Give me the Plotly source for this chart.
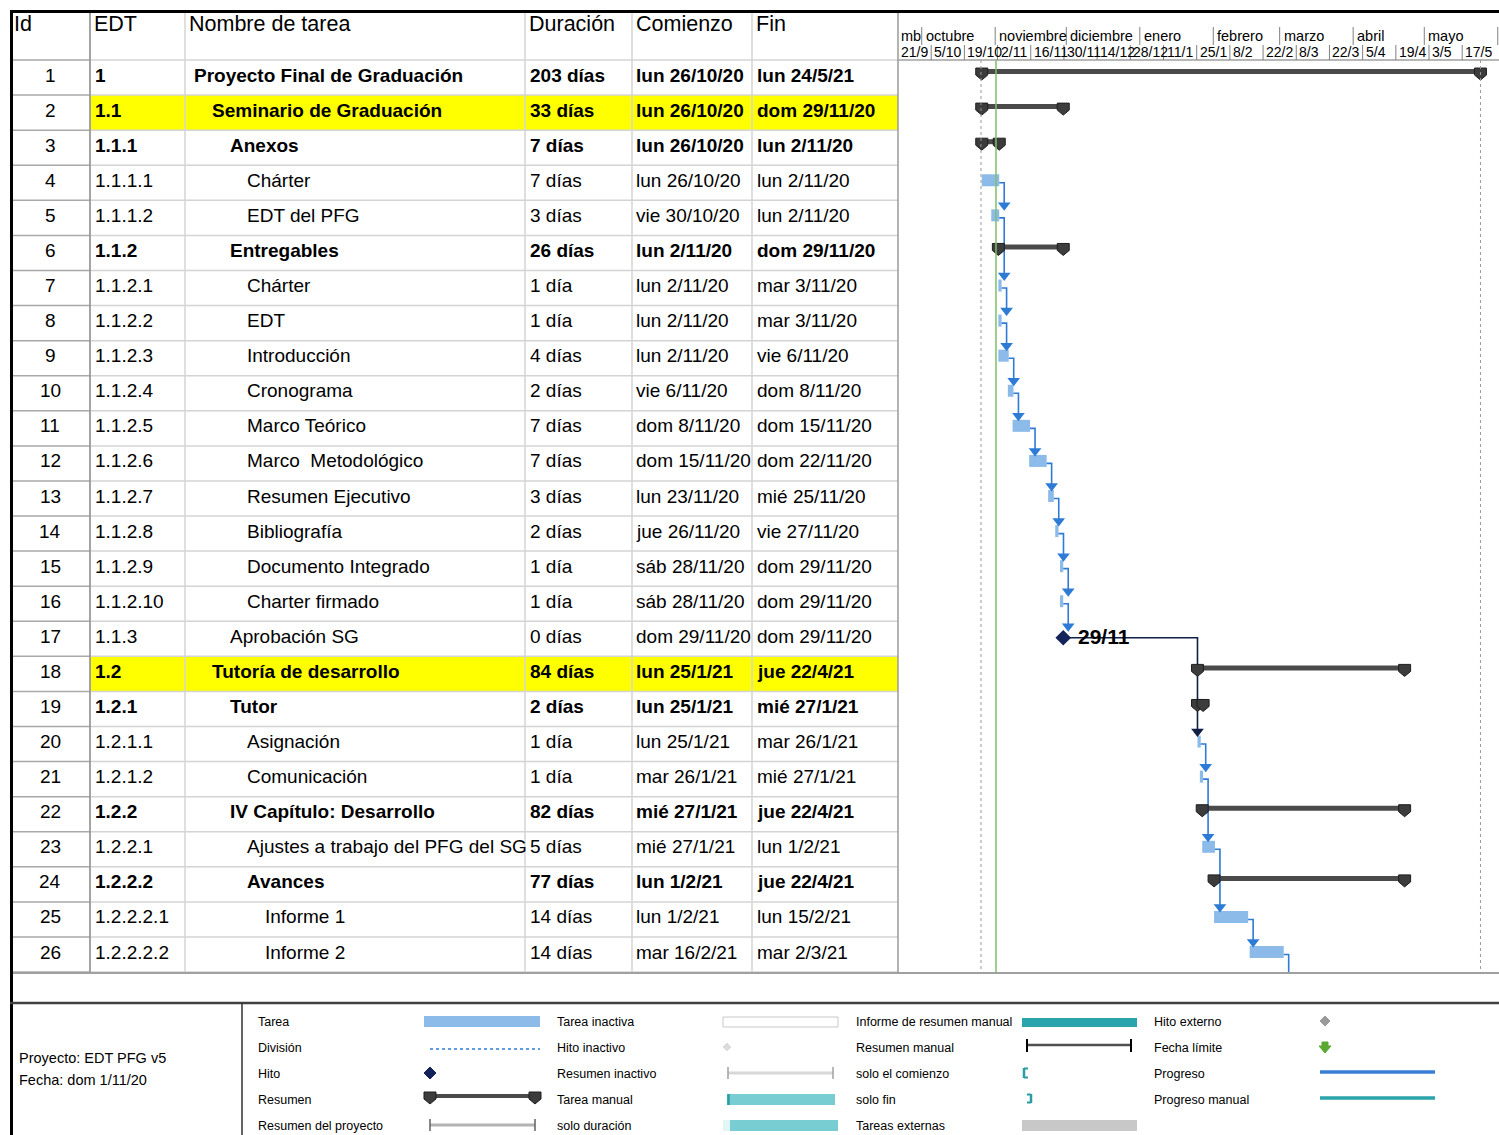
import plotly.graph_objects as go
from datetime import datetime, timedelta

W, H = 1499, 1135
FONT = "Liberation Sans, Arial, sans-serif"

# ---------------- task table ----------------
task_ids = list(range(1, 27))
edt_codes = ["1", "1.1", "1.1.1", "1.1.1.1", "1.1.1.2", "1.1.2", "1.1.2.1", "1.1.2.2",
             "1.1.2.3", "1.1.2.4", "1.1.2.5", "1.1.2.6", "1.1.2.7", "1.1.2.8", "1.1.2.9",
             "1.1.2.10", "1.1.3", "1.2", "1.2.1", "1.2.1.1", "1.2.1.2", "1.2.2", "1.2.2.1",
             "1.2.2.2", "1.2.2.2.1", "1.2.2.2.2"]
task_names = ["Proyecto Final de Graduación", "Seminario de Graduación", "Anexos", "Chárter",
              "EDT del PFG", "Entregables", "Chárter", "EDT", "Introducción", "Cronograma",
              "Marco Teórico", "Marco  Metodológico", "Resumen Ejecutivo", "Bibliografía",
              "Documento Integrado", "Charter firmado", "Aprobación SG", "Tutoría de desarrollo",
              "Tutor", "Asignación", "Comunicación", "IV Capítulo: Desarrollo",
              "Ajustes a trabajo del PFG del SG", "Avances", "Informe 1", "Informe 2"]
outline_levels = [0, 1, 2, 3, 3, 2, 3, 3, 3, 3, 3, 3, 3, 3, 3, 3, 2, 1, 2, 3, 3, 2, 3, 3, 4, 4]
durations = ["203 días", "33 días", "7 días", "7 días", "3 días", "26 días", "1 día", "1 día",
             "4 días", "2 días", "7 días", "7 días", "3 días", "2 días", "1 día", "1 día",
             "0 días", "84 días", "2 días", "1 día", "1 día", "82 días", "5 días", "77 días",
             "14 días", "14 días"]
start_labels = ["lun 26/10/20", "lun 26/10/20", "lun 26/10/20", "lun 26/10/20", "vie 30/10/20",
                "lun 2/11/20", "lun 2/11/20", "lun 2/11/20", "lun 2/11/20", "vie 6/11/20",
                "dom 8/11/20", "dom 15/11/20", "lun 23/11/20", "jue 26/11/20", "sáb 28/11/20",
                "sáb 28/11/20", "dom 29/11/20", "lun 25/1/21", "lun 25/1/21", "lun 25/1/21",
                "mar 26/1/21", "mié 27/1/21", "mié 27/1/21", "lun 1/2/21", "lun 1/2/21",
                "mar 16/2/21"]
finish_labels = ["lun 24/5/21", "dom 29/11/20", "lun 2/11/20", "lun 2/11/20", "lun 2/11/20",
                 "dom 29/11/20", "mar 3/11/20", "mar 3/11/20", "vie 6/11/20", "dom 8/11/20",
                 "dom 15/11/20", "dom 22/11/20", "mié 25/11/20", "vie 27/11/20", "dom 29/11/20",
                 "dom 29/11/20", "dom 29/11/20", "jue 22/4/21", "mié 27/1/21", "mar 26/1/21",
                 "mié 27/1/21", "jue 22/4/21", "lun 1/2/21", "jue 22/4/21", "lun 15/2/21",
                 "mar 2/3/21"]
task_types = ["summary", "summary", "summary", "task", "task", "summary", "task", "task", "task",
              "task", "task", "task", "task", "task", "task", "task", "milestone", "summary",
              "summary", "task", "task", "summary", "task", "summary", "task", "task"]
highlighted_rows = [2, 18]
# predecessor -> successor (None: successor below the visible rows)
links = [(4, 5), (5, 7), (7, 8), (8, 9), (9, 10), (10, 11), (11, 12), (12, 13), (13, 14),
         (14, 15), (15, 16), (16, 17), (17, 20), (20, 21), (21, 23), (23, 25), (25, 26),
         (26, None)]

# ---------------- timescale ----------------
month_starts = ["2020-10-01", "2020-11-01", "2020-12-01", "2021-01-01", "2021-02-01",
                "2021-03-01", "2021-04-01", "2021-05-01", "2021-06-01"]
month_labels = ["octubre", "noviembre", "diciembre", "enero", "febrero", "marzo", "abril",
                "mayo", ""]
week_tick_dates = ["2020-09-21", "2020-10-05", "2020-10-19", "2020-11-02", "2020-11-16",
                   "2020-11-30", "2020-12-14", "2020-12-28", "2021-01-11", "2021-01-25",
                   "2021-02-08", "2021-02-22", "2021-03-08", "2021-03-22", "2021-04-05",
                   "2021-04-19", "2021-05-03", "2021-05-17"]
week_tick_labels = ["21/9", "5/10", "19/10", "2/11", "16/11", "30/11", "14/12", "28/12",
                    "11/1", "25/1", "8/2", "22/2", "8/3", "22/3", "5/4", "19/4", "3/5", "17/5"]
project_name = "Proyecto: EDT PFG v5"
status_label = "Fecha: dom 1/11/20"

# ---------------- geometry helpers ----------------
ROW_PX = 35.08          # row pitch in pixels
TABLE_TOP = 60          # pixel y of the header bottom
GANTT_LEFT = 898        # pixel x of the chart pane
PX = 1.0 / ROW_PX       # one pixel in row units
TABLE_BOTTOM = TABLE_TOP + ROW_PX * len(task_ids)


def X(px):
    return px / W


def Y(py):
    return 1 - py / H


def parse_label(lbl):
    d, m, y = lbl.split()[1].split("/")
    return datetime(2000 + int(y), int(m), int(d))


def bar_span(tid):
    i = tid - 1
    s = parse_label(start_labels[i]) + timedelta(hours=8)
    f = parse_label(finish_labels[i]) + timedelta(hours=17)
    if task_types[i] == "milestone":
        s = f
    return s, f


fig = go.Figure()
shapes = []
annotations = []

# ---------------- task bars ----------------
for tid, kind in zip(task_ids, task_types):
    if kind != "task":
        continue
    s, f = bar_span(tid)
    fig.add_trace(go.Bar(
        orientation="h", y=[tid - 2.5 * PX], base=[s.isoformat()],
        x=[(f - s).total_seconds() * 1000], width=12 * PX,
        marker=dict(color="#8cbbe9", line=dict(width=0)),
        showlegend=False, hoverinfo="skip"))

# ---------------- summary bars ----------------
CAP_PATH = "M -6,6 L 6,6 L 6,-1 L 0,-6 L -6,-1 Z"
sx, sy = [], []
for tid, kind in zip(task_ids, task_types):
    if kind != "summary":
        continue
    s, f = bar_span(tid)
    sx += [s, f, None]
    sy += [tid - 6 * PX, tid - 6 * PX, None]
    for d in (s, f):
        shapes.append(dict(type="path", xref="x", yref="y", xsizemode="pixel",
                           ysizemode="pixel", xanchor=d.isoformat(),
                           yanchor=tid - 3.5 * PX, path=CAP_PATH, fillcolor="#3c3c3c",
                           line=dict(color="#1e1e1e", width=1), layer="above"))
fig.add_trace(go.Scatter(x=sx, y=sy, mode="lines", line=dict(color="#4a4a4a", width=5),
                         showlegend=False, hoverinfo="skip"))

# ---------------- dependency links ----------------
STUB = timedelta(days=2.1)
lx, ly, ax_, ay = [], [], [], []
nx, ny, nax, nay = [], [], [], []
for a, b in links:
    _, a_end = bar_span(a)
    if b is None:
        xv = a_end + STUB
        yb = len(task_ids) + 0.5
    else:
        b_start, _ = bar_span(b)
        xv = max(a_end + STUB, b_start)
        yb = b - 12.5 * PX
    if task_types[a - 1] == "milestone":
        ya = a - 1 * PX
        nx += [a_end, xv, xv, None]
        ny += [ya, ya, yb, None]
        nax.append(xv)
        nay.append(yb)
    else:
        lx += [a_end, xv, xv, None]
        ly += [a, a, yb, None]
        if b is not None:
            ax_.append(xv)
            ay.append(yb)
fig.add_trace(go.Scatter(x=lx, y=ly, mode="lines", line=dict(color="#2e7bd6", width=1.6),
                         showlegend=False, hoverinfo="skip"))
fig.add_trace(go.Scatter(x=ax_, y=ay, mode="markers",
                         marker=dict(symbol="triangle-down", size=11, color="#2e7bd6"),
                         showlegend=False, hoverinfo="skip"))
fig.add_trace(go.Scatter(x=nx, y=ny, mode="lines", line=dict(color="#0f1f45", width=1.6),
                         showlegend=False, hoverinfo="skip"))
fig.add_trace(go.Scatter(x=nax, y=nay, mode="markers",
                         marker=dict(symbol="triangle-down", size=11, color="#0f1f45"),
                         showlegend=False, hoverinfo="skip"))

# ---------------- milestones ----------------
for tid, kind in zip(task_ids, task_types):
    if kind != "milestone":
        continue
    _, f = bar_span(tid)
    fig.add_trace(go.Scatter(x=[f], y=[tid - 1 * PX], mode="markers",
                             marker=dict(symbol="diamond", size=12, color="#14245a"),
                             showlegend=False, hoverinfo="skip"))
    annotations.append(dict(x=f.isoformat(), y=tid, xref="x", yref="y", xanchor="left",
                            yanchor="middle", xshift=13, yshift=2, showarrow=False,
                            text="<b>%d/%d</b>" % (f.day, f.month),
                            font=dict(family=FONT, size=21, color="#000")))

# ---------------- table ----------------
GRID = "#d4d4d4"
DARK_GRID = "#a8a8a8"

for r in highlighted_rows:
    shapes.append(dict(type="rect", xref="paper", yref="y", x0=X(90), x1=X(GANTT_LEFT),
                       y0=r - 0.5, y1=r + 0.5, fillcolor="#ffff00", line=dict(width=0),
                       layer="below"))

for k in range(len(task_ids) + 1):
    py = TABLE_TOP + ROW_PX * k
    shapes.append(dict(type="line", xref="paper", yref="paper", x0=X(90), x1=X(GANTT_LEFT),
                       y0=Y(py), y1=Y(py), line=dict(color=GRID, width=1.5)))
    shapes.append(dict(type="line", xref="paper", yref="paper", x0=X(12), x1=X(90),
                       y0=Y(py), y1=Y(py), line=dict(color=DARK_GRID, width=1.5)))

for cxp in (185, 525, 632, 752):
    shapes.append(dict(type="line", xref="paper", yref="paper", x0=X(cxp), x1=X(cxp),
                       y0=Y(12), y1=Y(TABLE_BOTTOM), line=dict(color=GRID, width=1.5)))
shapes.append(dict(type="line", xref="paper", yref="paper", x0=X(90), x1=X(90),
                   y0=Y(12), y1=Y(TABLE_BOTTOM), line=dict(color="#9a9a9a", width=1.8)))
shapes.append(dict(type="line", xref="paper", yref="paper", x0=X(GANTT_LEFT), x1=X(GANTT_LEFT),
                   y0=Y(12), y1=Y(TABLE_BOTTOM), line=dict(color="#9a9a9a", width=1.5)))
# header bottom across the chart pane and table bottom across everything
shapes.append(dict(type="line", xref="paper", yref="paper", x0=X(GANTT_LEFT), x1=1,
                   y0=Y(TABLE_TOP), y1=Y(TABLE_TOP), line=dict(color="#a0a0a0", width=1.5)))
shapes.append(dict(type="line", xref="paper", yref="paper", x0=X(12), x1=1,
                   y0=Y(TABLE_BOTTOM + 1), y1=Y(TABLE_BOTTOM + 1),
                   line=dict(color="#a0a0a0", width=2)))
# outer frame
shapes.append(dict(type="line", xref="paper", yref="paper", x0=X(10), x1=1,
                   y0=Y(11.5), y1=Y(11.5), line=dict(color="#000", width=3)))
shapes.append(dict(type="line", xref="paper", yref="paper", x0=X(11.5), x1=X(11.5),
                   y0=Y(10), y1=0, line=dict(color="#000", width=3)))

header = [(12, "Id"), (92, "EDT"), (187, "Nombre de tarea"), (527, "Duración"),
          (634, "Comienzo"), (754, "Fin")]
for hx, ht in header:
    annotations.append(dict(x=X(hx), y=Y(24), xref="paper", yref="paper", xanchor="left",
                            yanchor="middle", showarrow=False, text=ht,
                            font=dict(family=FONT, size=21.5, color="#000")))

BODY = dict(family=FONT, size=19, color="#000")
for i, tid in enumerate(task_ids):
    bold = task_types[i] == "summary"

    def fmt(t):
        return "<b>%s</b>" % t if bold else t

    annotations.append(dict(x=X(50), y=tid, xref="paper", yref="y", xanchor="center",
                            yanchor="middle", yshift=2.5, showarrow=False, text=str(tid),
                            font=BODY))
    cells = [(93, edt_codes[i]), (192 + 17.8 * outline_levels[i], task_names[i]),
             (528, durations[i]), (634, start_labels[i]), (755, finish_labels[i])]
    for tx, tt in cells:
        annotations.append(dict(x=X(tx), y=tid, xref="paper", yref="y", xanchor="left",
                                yanchor="middle", yshift=2.5, showarrow=False, text=fmt(tt),
                                font=BODY))

# ---------------- timescale header ----------------
for d, lbl in zip(month_starts, month_labels):
    shapes.append(dict(type="line", xref="x", yref="paper", x0=d, x1=d, y0=Y(27), y1=Y(45),
                       line=dict(color="#808080", width=1)))
    if lbl:
        annotations.append(dict(x=d, y=Y(36), xref="x", yref="paper", xanchor="left",
                                yanchor="middle", xshift=2, showarrow=False, text=lbl,
                                font=dict(family=FONT, size=14.5, color="#000")))
annotations.append(dict(x=week_tick_dates[0], y=Y(36), xref="x", yref="paper",
                        xanchor="left", yanchor="middle", xshift=1, showarrow=False,
                        text="mb", font=dict(family=FONT, size=14.5, color="#000")))
for d, lbl in zip(week_tick_dates, week_tick_labels):
    if d != week_tick_dates[0]:
        shapes.append(dict(type="line", xref="x", yref="paper", x0=d, x1=d, y0=Y(45),
                           y1=Y(TABLE_TOP), line=dict(color="#808080", width=1)))
    annotations.append(dict(x=d, y=Y(52), xref="x", yref="paper", xanchor="left",
                            yanchor="middle", xshift=1, showarrow=False, text=lbl,
                            font=dict(family=FONT, size=14, color="#000")))

# project start / finish markers and status date
p_start, p_finish = bar_span(1)
for d in (parse_label(start_labels[0]), p_finish):
    shapes.append(dict(type="line", xref="x", yref="paper", x0=d.isoformat(), x1=d.isoformat(),
                       y0=Y(TABLE_TOP), y1=Y(TABLE_BOTTOM),
                       line=dict(color="#9a9a9a", width=1, dash="dot")))
status_date = parse_label(status_label.split(": ")[1]) + timedelta(hours=8)
shapes.append(dict(type="line", xref="x", yref="paper", x0=status_date.isoformat(),
                   x1=status_date.isoformat(), y0=Y(TABLE_TOP), y1=Y(TABLE_BOTTOM),
                   line=dict(color="#7cc06a", width=1.5)))

# ---------------- legend panel ----------------
LEG_TOP = 1003
shapes.append(dict(type="line", xref="paper", yref="paper", x0=X(10), x1=1, y0=Y(LEG_TOP),
                   y1=Y(LEG_TOP), line=dict(color="#404040", width=2.5)))
shapes.append(dict(type="line", xref="paper", yref="paper", x0=X(242), x1=X(242),
                   y0=Y(LEG_TOP), y1=0, line=dict(color="#303030", width=1.5)))
for py, t in [(1058, project_name), (1080, status_label)]:
    annotations.append(dict(x=X(17), y=Y(py), xref="paper", yref="paper", xanchor="left",
                            yanchor="middle", showarrow=False, text=t,
                            font=dict(family=FONT, size=14.5, color="#000")))

legend_cols = [
    (256, ["Tarea", "División", "Hito", "Resumen", "Resumen del proyecto"]),
    (555, ["Tarea inactiva", "Hito inactivo", "Resumen inactivo", "Tarea manual",
           "solo duración"]),
    (854, ["Informe de resumen manual", "Resumen manual", "solo el comienzo", "solo fin",
           "Tareas externas"]),
    (1152, ["Hito externo", "Fecha límite", "Progreso", "Progreso manual"]),
]
LEG_ROWS = [1022, 1048, 1074, 1100, 1126]
for lx0, labels in legend_cols:
    for py, t in zip(LEG_ROWS, labels):
        annotations.append(dict(x=X(lx0), y=Y(py), xref="paper", yref="paper", xanchor="left",
                                yanchor="middle", showarrow=False, text=t,
                                font=dict(family=FONT, size=12.5, color="#000")))


def rect(x0, x1, p0, p1, fill, line_color=None, lw=0):
    shapes.append(dict(type="rect", xref="paper", yref="paper", x0=X(x0), x1=X(x1), y0=Y(p1),
                       y1=Y(p0), fillcolor=fill,
                       line=dict(color=line_color or fill, width=lw)))


def hline(x0, x1, p, color, w, dash="solid"):
    shapes.append(dict(type="line", xref="paper", yref="paper", x0=X(x0), x1=X(x1), y0=Y(p),
                       y1=Y(p), line=dict(color=color, width=w, dash=dash)))


def vline(x, p0, p1, color, w):
    shapes.append(dict(type="line", xref="paper", yref="paper", x0=X(x), x1=X(x), y0=Y(p0),
                       y1=Y(p1), line=dict(color=color, width=w)))


def poly(points, fill, line_color=None):
    path = "M " + " L ".join("%f,%f" % (X(a), Y(b)) for a, b in points) + " Z"
    shapes.append(dict(type="path", xref="paper", yref="paper", path=path, fillcolor=fill,
                       line=dict(color=line_color or fill, width=1)))


def diamond(x, p, r, fill):
    poly([(x - r, p), (x, p - r), (x + r, p), (x, p + r)], fill)


def cap(x, p):
    poly([(x - 6, p - 6), (x + 6, p - 6), (x + 6, p + 1), (x, p + 6), (x - 6, p + 1)],
         "#3c3c3c", "#1e1e1e")


# column 1
rect(424, 540, 1016, 1027, "#8cbbe9")
hline(430, 540, 1049, "#2e7bd6", 1.5, "dot")
diamond(430, 1073, 6, "#14245a")
hline(430, 535, 1096, "#4a4a4a", 4)
cap(430, 1098)
cap(535, 1098)
hline(430, 535, 1125, "#b4b4b4", 3)
vline(430, 1119, 1131, "#606060", 1.5)
vline(535, 1119, 1131, "#606060", 1.5)
# column 2
rect(723, 838, 1017, 1027, "#ffffff", "#c8c8c8", 1)
diamond(727, 1047, 4, "#dcdcdc")
hline(728, 833, 1073, "#d8d8d8", 3)
vline(728, 1067, 1079, "#a0a0a0", 1.5)
vline(833, 1067, 1079, "#a0a0a0", 1.5)
rect(727, 835, 1094, 1105, "#78cdd2")
vline(728.5, 1094, 1105, "#2a9ca3", 2.5)
rect(723, 838, 1120, 1131, "#78cdd2")
rect(723, 730, 1120, 1131, "#e4f5f6")
# column 3
rect(1022, 1137, 1018, 1027, "#2aa5ab")
hline(1027, 1131, 1045, "#505050", 2.5)
vline(1027, 1039, 1052, "#000000", 2)
vline(1131, 1039, 1052, "#000000", 2)
vline(1024, 1068, 1078, "#2a9ca3", 2.5)
hline(1024, 1028, 1068.5, "#2a9ca3", 2)
hline(1024, 1028, 1077.5, "#2a9ca3", 2)
vline(1031, 1094, 1103, "#2a9ca3", 2.5)
hline(1027, 1031, 1094.5, "#2a9ca3", 2)
hline(1027, 1031, 1102.5, "#2a9ca3", 2)
rect(1022, 1137, 1120, 1131, "#c8c8c8")
# column 4
diamond(1325, 1021, 5, "#9a9a9a")
poly([(1322, 1042), (1328, 1042), (1328, 1046), (1331, 1046), (1325, 1053), (1319, 1046),
      (1322, 1046)], "#5aa832")
hline(1320, 1435, 1072, "#3a7fd5", 3.5)
hline(1320, 1435, 1098, "#2aa5ab", 3.5)

# ---------------- layout ----------------
x_left = datetime(2020, 9, 21)
x_right = x_left + timedelta(days=(W - GANTT_LEFT) / 2.3706)
fig.update_layout(
    width=W, height=H, margin=dict(l=0, r=0, t=0, b=0),
    paper_bgcolor="#ffffff", plot_bgcolor="rgba(0,0,0,0)",
    barmode="overlay", showlegend=False,
    xaxis=dict(type="date", domain=[GANTT_LEFT / W, 1],
               range=[x_left.isoformat(), x_right.isoformat()], visible=False,
               showgrid=False, zeroline=False),
    yaxis=dict(range=[(H - TABLE_TOP) / ROW_PX + 0.5, (0 - TABLE_TOP) / ROW_PX + 0.5],
               visible=False, showgrid=False, zeroline=False),
    shapes=shapes, annotations=annotations,
    font=dict(family=FONT),
)

fig.write_html("out.html", config={"displayModeBar": False})
